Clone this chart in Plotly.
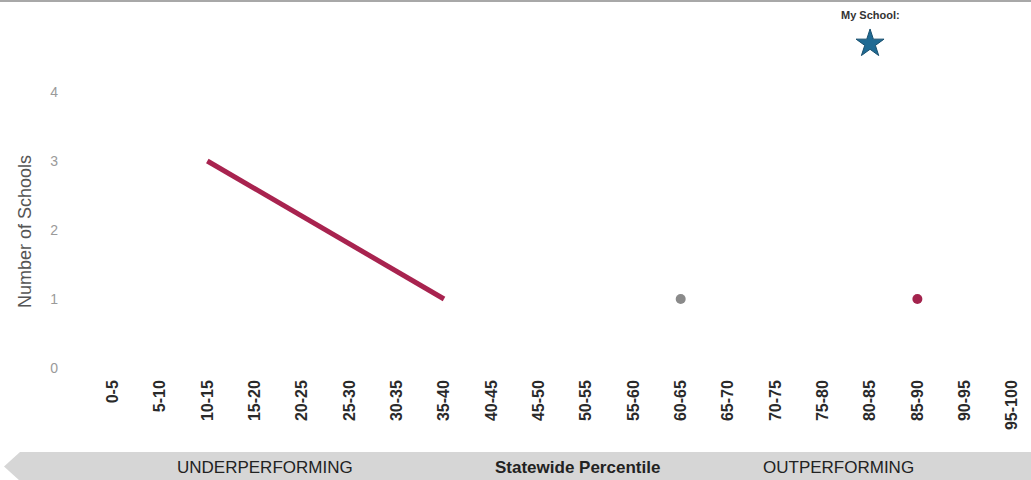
import plotly.graph_objects as go

# Percentile bands along the x axis
bands = ["0-5", "5-10", "10-15", "15-20", "20-25", "25-30", "30-35", "35-40",
         "40-45", "45-50", "50-55", "55-60", "60-65", "65-70", "70-75", "75-80",
         "80-85", "85-90", "90-95", "95-100"]

# Underperforming trend segment
trend_x = ["10-15", "35-40"]
trend_y = [3, 1]

# Individual school counts
gray_x = ["60-65"]
gray_y = [1]
red_x = ["85-90"]
red_y = [1]

# Marker for the highlighted school
my_school_x = ["80-85"]
my_school_y = [4.7]

W, H = 1031, 480
L, T, B = 89, 20, 108
plot_h = H - T - B
plot_w = W - L


def py(pixel_y):
    """Convert a page pixel row into paper coordinates."""
    return (H - B - pixel_y) / plot_h


def px(pixel_x):
    """Convert a page pixel column into paper coordinates."""
    return (pixel_x - L) / plot_w


idx = {b: i for i, b in enumerate(bands)}

fig = go.Figure()
fig.add_trace(go.Scatter(
    x=[idx[v] for v in trend_x], y=trend_y, mode="lines",
    line=dict(color="#a8234f", width=5), hoverinfo="skip"))
fig.add_trace(go.Scatter(
    x=[idx[v] for v in gray_x], y=gray_y, mode="markers",
    marker=dict(color="#8a8a8a", size=10)))
fig.add_trace(go.Scatter(
    x=[idx[v] for v in red_x], y=red_y, mode="markers",
    marker=dict(color="#a3234d", size=10)))
fig.add_trace(go.Scatter(
    x=[idx[v] for v in my_school_x], y=my_school_y, mode="markers",
    marker=dict(symbol="star", color="#1f6a93", size=21,
                line=dict(color="#184f6e", width=1))))

fig.add_annotation(x=idx[my_school_x[0]], y=py(15), yref="paper",
                   yanchor="middle", text="<b>My School:</b>", showarrow=False,
                   font=dict(family="Liberation Sans Narrow, Liberation Sans",
                             size=11, color="#333"))

# Y axis title
fig.add_annotation(x=px(25), xref="paper", y=py(232), yref="paper",
                   xanchor="center", yanchor="middle", textangle=-90,
                   text="Number of Schools", showarrow=False,
                   font=dict(family="Liberation Sans", size=18, color="#555"))

# Banner along the bottom
band_top, band_bot = py(452), py(481)
fig.add_shape(type="path", xref="paper", yref="paper",
              path=(f"M {px(4)} {(band_top + band_bot) / 2} "
                    f"L {px(20)} {band_top} L 1 {band_top} "
                    f"L 1 {band_bot} L {px(20)} {band_bot} Z"),
              fillcolor="#d6d6d6", line=dict(width=0), layer="below")
for label, cx, bold in [("UNDERPERFORMING", 265, False),
                        ("Statewide Percentile", 577, True),
                        ("OUTPERFORMING", 838, False)]:
    fig.add_annotation(x=px(cx), xref="paper", xanchor="center",
                       y=py(467), yref="paper", yanchor="middle", showarrow=False,
                       text=f"<b>{label}</b>" if bold else label,
                       font=dict(family="Liberation Sans",
                                 size=17, color="#222"))

# Thin rule across the top edge
fig.add_shape(type="line", xref="paper", yref="paper",
              x0=px(0), x1=1, y0=py(1), y1=py(1),
              line=dict(color="#a8a8a8", width=2))

fig.update_layout(
    width=W, height=H,
    margin=dict(l=L, r=0, t=T, b=B),
    paper_bgcolor="white", plot_bgcolor="white",
    showlegend=False,
    xaxis=dict(range=[-0.5, 19.4], tickmode="array",
               tickvals=list(range(len(bands))),
               ticktext=[f"<b>{b}</b>" for b in bands],
               tickangle=-90, showgrid=False, zeroline=False, showline=False,
               ticks="", ticklabelstandoff=4,
               tickfont=dict(family="Liberation Sans", size=16, color="#2a2a2a")),
    yaxis=dict(range=[-0.058, 5.043], tickvals=[0, 1, 2, 3, 4],
               showgrid=False, zeroline=False, showline=False, ticks="",
               ticklabelstandoff=30,
               tickfont=dict(family="Liberation Sans", size=14, color="#9a9a9a")),
)

fig.write_html("out.html")
